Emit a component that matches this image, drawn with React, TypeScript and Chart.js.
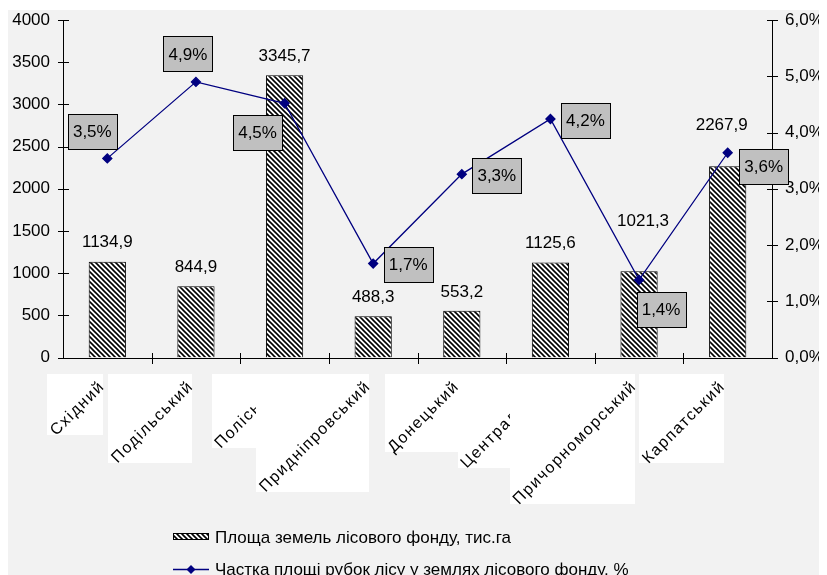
import { useEffect, useRef } from "react";
import { Chart, registerables } from "chart.js";

Chart.register(...registerables);

const FONT = '"Liberation Sans", Arial, sans-serif';

const categories = [
  "Східний",
  "Подільський",
  "Поліський",
  "Придніпровський",
  "Донецький",
  "Центральний",
  "Причорноморський",
  "Карпатський",
];
const forestArea = [1134.9, 844.9, 3345.7, 488.3, 553.2, 1125.6, 1021.3, 2267.9];
const cuttingShare = [3.54, 4.9, 4.52, 1.67, 3.26, 4.24, 1.38, 3.64];
const seriesNames = [
  "Площа земель лісового фонду, тис.га",
  "Частка площі рубок лісу у землях лісового фонду, %",
];
const leftAxis = { min: 0, max: 4000, step: 500 };
const rightAxis = { min: 0, max: 6, step: 1 };

// label placement (layout only): % boxes relative to each point
const shareLabelOffsets: [number, number][] = [
  [-15, -27],
  [-8, -28],
  [-27, 29.5],
  [35, 1],
  [35, 1],
  [35, 1],
  [22, 29.5],
  [36, 14],
];
// value labels above bars: [dx, distance above bar top]
const barLabelOffsets: [number, number][] = [
  [0, 19],
  [0, 19],
  [0, 19],
  [0, 19],
  [0, 19],
  [0, 19],
  [4, 50],
  [-6, 41],
];

const fmtComma = (v: number, d: number) => v.toFixed(d).replace(".", ",");

function makeHatch(ctx: CanvasRenderingContext2D) {
  const s = 5;
  const c = document.createElement("canvas");
  c.width = s;
  c.height = s;
  const g = c.getContext("2d")!;
  g.fillStyle = "#fff";
  g.fillRect(0, 0, s, s);
  g.strokeStyle = "#000";
  g.lineWidth = 1.6;
  g.beginPath();
  g.moveTo(-1, -1);
  g.lineTo(s + 1, s + 1);
  g.moveTo(-2, s - 2);
  g.lineTo(2, s + 2);
  g.moveTo(s - 2, -2);
  g.lineTo(s + 2, 2);
  g.stroke();
  return ctx.createPattern(c, "repeat")!;
}

export default function App() {
  const ref = useRef<HTMLCanvasElement>(null);

  useEffect(() => {
    const canvas = ref.current!;
    const ctx0 = canvas.getContext("2d")!;
    const hatch = makeHatch(ctx0);

    const axesPlugin = {
      id: "axesPlugin",
      beforeDatasetsDraw(chart: any) {
        const { ctx, chartArea: a, scales } = chart;
        ctx.save();
        ctx.strokeStyle = "#000";
        ctx.lineWidth = 1;
        const L = Math.round(a.left) + 0.5;
        const R = Math.round(a.right) + 0.5;
        const B = Math.round(a.bottom) + 0.5;
        ctx.beginPath();
        ctx.moveTo(L, Math.round(a.top));
        ctx.lineTo(L, B);
        ctx.moveTo(R, Math.round(a.top));
        ctx.lineTo(R, B);
        ctx.moveTo(L, B);
        ctx.lineTo(R, B);
        for (let v = leftAxis.min; v <= leftAxis.max; v += leftAxis.step) {
          const y = Math.round(scales.y.getPixelForValue(v)) + 0.5;
          ctx.moveTo(L - 5.5, y);
          ctx.lineTo(L + 5.5, y);
        }
        for (let v = rightAxis.min; v <= rightAxis.max; v += rightAxis.step) {
          const y = Math.round(scales.y1.getPixelForValue(v)) + 0.5;
          ctx.moveTo(R - 5.5, y);
          ctx.lineTo(R + 5.5, y);
        }
        const xs = scales.x;
        const half = (xs.getPixelForValue(1) - xs.getPixelForValue(0)) / 2;
        for (let i = 1; i < categories.length; i++) {
          const x = Math.round(xs.getPixelForValue(i) - half) + 0.5;
          ctx.moveTo(x, B - 5.5);
          ctx.lineTo(x, B + 5.5);
        }
        ctx.stroke();
        ctx.restore();
      },
      afterDatasetsDraw(chart: any) {
        const { ctx } = chart;
        ctx.save();
        ctx.font = `17px ${FONT}`;
        ctx.fillStyle = "#000";
        ctx.textAlign = "center";
        ctx.textBaseline = "middle";
        const barMeta = chart.getDatasetMeta(0);
        barMeta.data.forEach((bar: any, i: number) => {
          const [dx, up] = barLabelOffsets[i];
          ctx.fillText(fmtComma(forestArea[i], 1), bar.x + dx, bar.y - up);
        });
        const lineMeta = chart.getDatasetMeta(1);
        lineMeta.data.forEach((pt: any, i: number) => {
          const [dx, dy] = shareLabelOffsets[i];
          const cx = pt.x + dx;
          const cy = pt.y + dy;
          const w = 49;
          const h = 35;
          const x0 = Math.round(cx - w / 2) + 0.5;
          const y0 = Math.round(cy - h / 2) + 0.5;
          ctx.fillStyle = "#c0c0c0";
          ctx.fillRect(x0, y0, w, h);
          ctx.strokeStyle = "#000";
          ctx.lineWidth = 1;
          ctx.strokeRect(x0, y0, w, h);
          ctx.fillStyle = "#000";
          ctx.fillText(fmtComma(cuttingShare[i], 1) + "%", cx, cy + 1);
        });
        ctx.restore();
      },
      afterDraw(chart: any) {
        const { ctx, chartArea: a, scales } = chart;
        const xs = scales.x;
        ctx.save();
        categories.forEach((label, i) => {
          const c = xs.getPixelForValue(i);
          ctx.font = `16px ${FONT}`;
          (ctx as any).letterSpacing = "1.5px";
          const w = ctx.measureText(label).width;
          const px = c - 5;
          const py = a.bottom + 26.5;
          const p = w * 0.7071;
          const left = Math.round(px - p - 6);
          const right = Math.round(c - 4);
          const top = Math.round(a.bottom + 16.5);
          const bottom = Math.round(py + p + 2);
          ctx.fillStyle = "#fff";
          ctx.fillRect(left, top, right - left, bottom - top);
          ctx.save();
          ctx.translate(px, py);
          ctx.rotate(-Math.PI / 4);
          ctx.fillStyle = "#000";
          ctx.textAlign = "right";
          ctx.textBaseline = "middle";
          ctx.fillText(label, 0, 0);
          ctx.restore();
        });
        (ctx as any).letterSpacing = "0px";
        // legend
        const lx = 165;
        const y1 = 526;
        const y2 = 559.5;
        ctx.fillStyle = hatch;
        ctx.fillRect(lx, y1 - 3, 36, 6);
        ctx.strokeStyle = "#000";
        ctx.lineWidth = 1;
        ctx.strokeRect(lx + 0.5, y1 - 3 + 0.5, 35, 6);
        ctx.strokeStyle = "#000080";
        ctx.lineWidth = 1.3;
        ctx.beginPath();
        ctx.moveTo(lx, y2);
        ctx.lineTo(lx + 36, y2);
        ctx.stroke();
        ctx.fillStyle = "#000080";
        ctx.beginPath();
        ctx.moveTo(lx + 18, y2 - 4.5);
        ctx.lineTo(lx + 22.5, y2);
        ctx.lineTo(lx + 18, y2 + 4.5);
        ctx.lineTo(lx + 13.5, y2);
        ctx.closePath();
        ctx.fill();
        ctx.fillStyle = "#000";
        ctx.font = `17px ${FONT}`;
        ctx.textAlign = "left";
        ctx.textBaseline = "middle";
        ctx.fillText(seriesNames[0], lx + 42, y1 + 2.5);
        ctx.fillText(seriesNames[1], lx + 42, y2 + 1);
        ctx.restore();
      },
    };

    const zeroPad = (s: any) => {
      s.paddingTop = 0;
      s.paddingBottom = 0;
    };

    const chart = new Chart(canvas, {
      type: "bar",
      data: {
        labels: categories,
        datasets: [
          {
            type: "bar",
            label: seriesNames[0],
            data: forestArea,
            yAxisID: "y",
            backgroundColor: hatch as any,
            borderColor: "#000",
            borderWidth: 1,
            barPercentage: 0.42,
            categoryPercentage: 1,
            order: 2,
          },
          {
            type: "line",
            label: seriesNames[1],
            data: cuttingShare,
            yAxisID: "y1",
            borderColor: "#000080",
            backgroundColor: "#000080",
            borderWidth: 1.3,
            pointStyle: "rectRot",
            pointRadius: 4.5,
            pointBackgroundColor: "#000080",
            pointBorderColor: "#000080",
            tension: 0,
            order: 1,
          } as any,
        ],
      },
      options: {
        animation: false,
        responsive: false,
        maintainAspectRatio: false,
        layout: { padding: { top: 10, left: 0, right: 0, bottom: 0 } },
        plugins: {
          legend: { display: false },
          tooltip: { enabled: false },
        },
        scales: {
          x: {
            type: "category",
            offset: true,
            grid: { display: false, drawTicks: false },
            border: { display: false },
            ticks: { display: false },
            afterFit: (s: any) => {
              s.height = 217.5;
              s.paddingLeft = 0;
              s.paddingRight = 0;
            },
          },
          y: {
            position: "left",
            min: leftAxis.min,
            max: leftAxis.max,
            ticks: {
              stepSize: leftAxis.step,
              color: "#000",
              font: { family: FONT, size: 17 },
              padding: 13,
              callback: (v: any) => String(v),
            },
            grid: { display: false, drawTicks: false },
            border: { display: false },
            afterFit: (s: any) => {
              s.width = 55;
              zeroPad(s);
            },
          },
          y1: {
            position: "right",
            min: rightAxis.min,
            max: rightAxis.max,
            ticks: {
              stepSize: rightAxis.step,
              color: "#000",
              font: { family: FONT, size: 17 },
              padding: 13,
              callback: (v: any) => fmtComma(Number(v), 1) + "%",
            },
            grid: { display: false, drawTicks: false },
            border: { display: false },
            afterFit: (s: any) => {
              s.width = 55;
              zeroPad(s);
            },
          },
        },
      },
      plugins: [axesPlugin],
    });
    return () => chart.destroy();
  }, []);

  return (
    <div style={{ paddingTop: 2 }}>
      <div style={{ width: 819, height: 565, background: "#f2f2f2" }}>
        <canvas ref={ref} width={819} height={565} style={{ display: "block" }} />
      </div>
    </div>
  );
}
